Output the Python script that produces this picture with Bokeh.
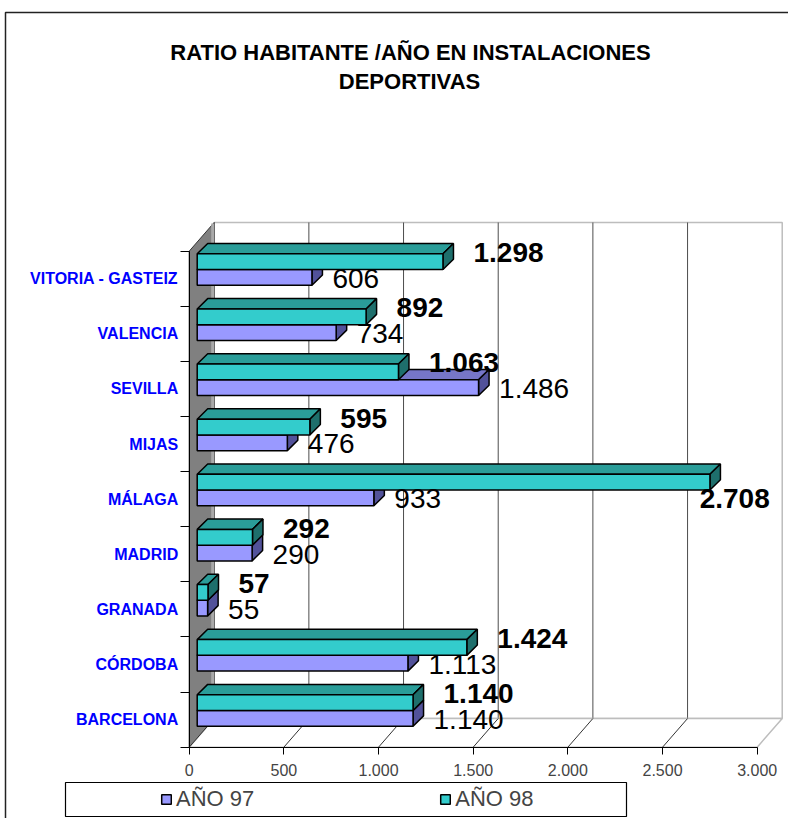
from bokeh.plotting import figure
from bokeh.models import Range1d, LinearAxis, FixedTicker, Legend, LegendItem, ColumnDataSource
from bokeh.core.properties import value
from bokeh.embed import file_html
from bokeh.resources import INLINE

# ---------------- data ----------------
CITIES = ["BARCELONA", "CÓRDOBA", "GRANADA", "MADRID", "MÁLAGA",
          "MIJAS", "SEVILLA", "VALENCIA", "VITORIA - GASTEIZ"]
ANO_97 = [1140, 1113, 55, 290, 933, 476, 1486, 734, 606]
ANO_98 = [1140, 1424, 57, 292, 2708, 595, 1063, 892, 1298]
SERIES = ["AÑO 97", "AÑO 98"]
X_TICKS = [0, 500, 1000, 1500, 2000, 2500, 3000]
X_TICK_LABELS = ["0", "500", "1.000", "1.500", "2.000", "2.500", "3.000"]
TITLE_LINES = ["RATIO HABITANTE /AÑO EN INSTALACIONES", "DEPORTIVAS"]

# ---------------- layout (pixels) ----------------
W, H = 788, 818
SX = 94.67 / 500.0      # px per value unit
X0 = 188.7              # px of value 0 (front plane)
BAND = 55.11            # px per category band
Y0 = 746.7              # px (from top) of front floor edge
XR = (-X0 / SX, (W - X0) / SX)
YR = (-(H - Y0) / BAND, Y0 / BAND)


def xd(px):
    return XR[0] + px / SX


def yd(py):
    return YR[1] - py / BAND


DX = 25.0 / SX          # depth of the 3D box, in data units
DY = 28.7 / BAND
XMAX = X_TICKS[-1]
NC = len(CITIES)
BW = 1 / 3.5            # bar thickness (gap width 150%)
FX, FY = 0.32 * DX, 0.32 * DY   # bar front plane
BX, BY = 0.42 * DX, 0.36 * DY   # bar depth

FONT = value("Liberation Sans")

p = figure(width=W, height=H, x_range=Range1d(*XR), y_range=Range1d(*YR),
           output_backend="svg", toolbar_location=None,
           x_axis_location=None, y_axis_location=None,
           min_border=0, outline_line_color=None,
           background_fill_color="white", border_fill_color="white")
p.min_border_left = p.min_border_right = p.min_border_top = p.min_border_bottom = 0
p.xgrid.visible = False
p.ygrid.visible = False

# outer border
p.line(x=[xd(5), xd(5), xd(W)], y=[yd(H), yd(12), yd(12)],
       line_color="#222222", line_width=1.5)

# back wall
p.patch(x=[DX, XMAX + DX, XMAX + DX, DX], y=[DY, DY, NC + DY, NC + DY],
        fill_color="white", line_color="#BDBDBD", line_width=1.5)
inner = X_TICKS[1:-1]
p.segment(x0=[t + DX for t in inner], y0=[DY] * len(inner),
          x1=[t + DX for t in inner], y1=[NC + DY] * len(inner),
          line_color="#4D4D4D", line_width=1)
# floor
p.patch(x=[0, XMAX, XMAX + DX, DX], y=[0, 0, DY, DY],
        fill_color="white", line_color="#BDBDBD", line_width=1.5)
p.segment(x0=inner, y0=[0] * len(inner),
          x1=[t + DX for t in inner], y1=[DY] * len(inner),
          line_color="#333333", line_width=1)
# side wall
p.patch(x=[0, DX, DX, 0], y=[0, DY, NC + DY, NC],
        fill_color="#808080", line_color="#333333", line_width=1)
p.segment(x0=[DX - 1.5 / SX], y0=[DY + 0.02], x1=[DX - 1.5 / SX], y1=[NC + DY - 0.02],
          line_color="#A9A9A9", line_width=3)


def bar_faces(vals, lo, hi, c_front, c_top, c_side):
    top_xs = [[FX, v + FX, v + FX + BX, FX + BX] for v in vals]
    top_ys = [[t + FY, t + FY, t + FY + BY, t + FY + BY] for t in hi]
    side_xs = [[v + FX, v + FX + BX, v + FX + BX, v + FX] for v in vals]
    side_ys = [[b + FY, b + FY + BY, t + FY + BY, t + FY] for b, t in zip(lo, hi)]
    p.patches(xs=top_xs, ys=top_ys, fill_color=c_top, line_color="black", line_width=1.5)
    p.patches(xs=side_xs, ys=side_ys, fill_color=c_side, line_color="black", line_width=1.5)
    src = ColumnDataSource(dict(left=[FX] * len(vals), right=[v + FX for v in vals],
                                bottom=[b + FY for b in lo], top=[t + FY for t in hi]))
    return p.quad(left="left", right="right", bottom="bottom", top="top", source=src,
                  fill_color=c_front, line_color="black", line_width=1.5)


lo97 = [k + 0.5 - BW for k in range(NC)]
hi97 = [k + 0.5 for k in range(NC)]
lo98 = [k + 0.5 for k in range(NC)]
hi98 = [k + 0.5 + BW for k in range(NC)]

r97 = bar_faces(ANO_97, lo97, hi97, "#9999FF", "#7676C8", "#52529A")
r98 = bar_faces(ANO_98, lo98, hi98, "#33CCCC", "#2A9D99", "#1E6F6C")


def fmt(v):
    return f"{v:,}".replace(",", ".")


def data_labels(vals, lo, hi, off_px, dy_px, style):
    norm = dict(x=[], y=[], text=[])
    over = dict(x=[], y=[], text=[])
    for v, b, t in zip(vals, lo, hi):
        s = fmt(v)
        x = v + FX + BX + off_px / SX
        yc = (b + t) / 2 + FY + dy_px / BAND
        est_w = len(s) * 0.55 * 28
        if x + est_w / SX > XMAX + DX:
            over["x"].append(XMAX + 0.5 * DX)
            over["y"].append(yc - 1.6 * (t - b))
            over["text"].append(s)
        else:
            norm["x"].append(x)
            norm["y"].append(yc)
            norm["text"].append(s)
    for d, align in ((norm, "left"), (over, "right")):
        if d["x"]:
            p.text(x="x", y="y", text="text", source=ColumnDataSource(d),
                   text_font=FONT, text_font_size="28px", text_font_style=style,
                   text_align=align, text_baseline="middle", text_color="black")


data_labels(ANO_97, lo97, hi97, 10, -1, "normal")
data_labels(ANO_98, lo98, hi98, 20, 9, "bold")

# axes
xaxis = LinearAxis(fixed_location=0, bounds=(0, XMAX),
                   ticker=FixedTicker(ticks=X_TICKS),
                   major_label_overrides=dict(zip(X_TICKS, X_TICK_LABELS)),
                   major_tick_out=7, major_tick_in=0, minor_tick_out=0, minor_tick_in=0,
                   axis_line_color="black", major_tick_line_color="black",
                   major_label_text_font="Liberation Sans",
                   major_label_text_font_size="16px", major_label_standoff=10)
p.add_layout(xaxis, "below")

centers = [k + 0.5 for k in range(NC)]
yaxis = LinearAxis(fixed_location=0, bounds=(0, NC),
                   ticker=FixedTicker(ticks=centers, minor_ticks=list(range(NC + 1))),
                   major_label_overrides=dict(zip(centers, CITIES)),
                   major_tick_out=0, major_tick_in=0, minor_tick_out=9, minor_tick_in=0,
                   axis_line_color="black", minor_tick_line_color="black",
                   major_label_text_font="Liberation Sans",
                   major_label_text_font_style="bold",
                   major_label_text_color="#0000FF",
                   major_label_text_font_size="16px", major_label_standoff=2)
p.add_layout(yaxis, "left")

# title
p.text(x=[xd(410), xd(409)], y=[yd(52), yd(81)], text=TITLE_LINES,
       text_font=FONT, text_font_size="22px", text_font_style="bold",
       text_align="center", text_baseline="middle", text_color="black")

# legend box + legend
p.quad(left=[xd(65)], right=[xd(626)], bottom=[yd(816)], top=[yd(782)],
       fill_color=None, line_color="black", line_width=1.2)
legend = Legend(items=[LegendItem(label=SERIES[0], renderers=[r97]),
                       LegendItem(label=SERIES[1], renderers=[r98])],
                orientation="horizontal", location=(160, 6),
                border_line_color=None, background_fill_alpha=0,
                padding=0, margin=0, spacing=185,
                glyph_width=12, glyph_height=12, label_standoff=4,
                label_text_font="Liberation Sans", label_text_font_size="22px")
p.add_layout(legend)

open("out.html", "w").write(file_html(p, INLINE))
